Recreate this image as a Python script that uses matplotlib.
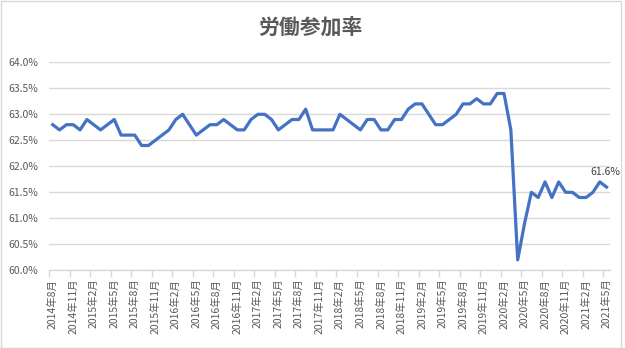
import matplotlib.pyplot as plt
from matplotlib.ticker import FuncFormatter, FixedLocator
from matplotlib.patches import Rectangle

plt.rcParams['font.family'] = ['Noto Sans CJK JP', 'DejaVu Sans']

# 月次の労働参加率 (2014年8月〜2021年5月)
rate = [62.8, 62.7, 62.8, 62.8, 62.7, 62.9, 62.8, 62.7, 62.8, 62.9,
        62.6, 62.6, 62.6, 62.4, 62.4, 62.5, 62.6, 62.7, 62.9, 63.0,
        62.8, 62.6, 62.7, 62.8, 62.8, 62.9, 62.8, 62.7, 62.7, 62.9,
        63.0, 63.0, 62.9, 62.7, 62.8, 62.9, 62.9, 63.1, 62.7, 62.7,
        62.7, 62.7, 63.0, 62.9, 62.8, 62.7, 62.9, 62.9, 62.7, 62.7,
        62.9, 62.9, 63.1, 63.2, 63.2, 63.0, 62.8, 62.8, 62.9, 63.0,
        63.2, 63.2, 63.3, 63.2, 63.2, 63.4, 63.4, 62.7, 60.2, 60.9,
        61.5, 61.4, 61.7, 61.4, 61.7, 61.5, 61.5, 61.4, 61.4, 61.5,
        61.7, 61.6]

# 3か月ごとの目盛りラベル
tick_labels = ["2014年8月", "2014年11月",
               "2015年2月", "2015年5月", "2015年8月", "2015年11月",
               "2016年2月", "2016年5月", "2016年8月", "2016年11月",
               "2017年2月", "2017年5月", "2017年8月", "2017年11月",
               "2018年2月", "2018年5月", "2018年8月", "2018年11月",
               "2019年2月", "2019年5月", "2019年8月", "2019年11月",
               "2020年2月", "2020年5月", "2020年8月", "2020年11月",
               "2021年2月", "2021年5月"]

y_ticks = [60.0, 60.5, 61.0, 61.5, 62.0, 62.5, 63.0, 63.5, 64.0]

text_color = "#595959"
grid_color = "#D9D9D9"
line_color = "#4472C4"

fig = plt.figure(figsize=(6.25, 3.48), dpi=100)
ax = fig.add_axes([49.3 / 625, 1 - 270.3 / 348, (610 - 49.3) / 625, (270.3 - 62.3) / 348])

x = list(range(len(rate)))
ax.plot(x, rate, color=line_color, lw=2.3, solid_joinstyle="round", zorder=3)

ax.set_xlim(-0.5, len(rate) - 0.5)
ax.set_ylim(60.0, 64.0)

ax.set_yticks(y_ticks)
ax.yaxis.set_major_formatter(FuncFormatter(lambda v, p: f"{v:.1f}%"))
ax.grid(axis="y", color=grid_color, lw=1, zorder=0)
ax.tick_params(axis="y", length=0, labelsize=7.5, labelcolor=text_color, pad=8)

# ラベルは各区間の中央、目盛り線は区間の境界
ax.set_xticks(x[::3])
ax.set_xticklabels(tick_labels, rotation=90, fontsize=7.5, color=text_color)
ax.xaxis.set_minor_locator(FixedLocator([i - 0.5 for i in x[::3]]))
ax.tick_params(axis="x", which="major", length=0, pad=6)
ax.tick_params(axis="x", which="minor", length=5, color=grid_color, width=1)

for side in ["top", "right", "left"]:
    ax.spines[side].set_visible(False)
ax.spines["bottom"].set_color(grid_color)
ax.spines["bottom"].set_linewidth(1)

# 最新値のラベル
ax.annotate(f"{rate[-1]:.1f}%", (x[-1], rate[-1]), xytext=(-1, 7),
            textcoords="offset points", ha="center", va="bottom",
            fontsize=7.5, color="#404040")

fig.text(0.497, 0.922, "労働参加率", ha="center", va="center",
         fontsize=15, fontweight="bold", color=text_color)

fig.patches.append(Rectangle((0.001, 0.001), 0.993, 0.997, transform=fig.transFigure,
                             fill=False, edgecolor=grid_color, lw=1))

fig.savefig("out.png", dpi=100)
